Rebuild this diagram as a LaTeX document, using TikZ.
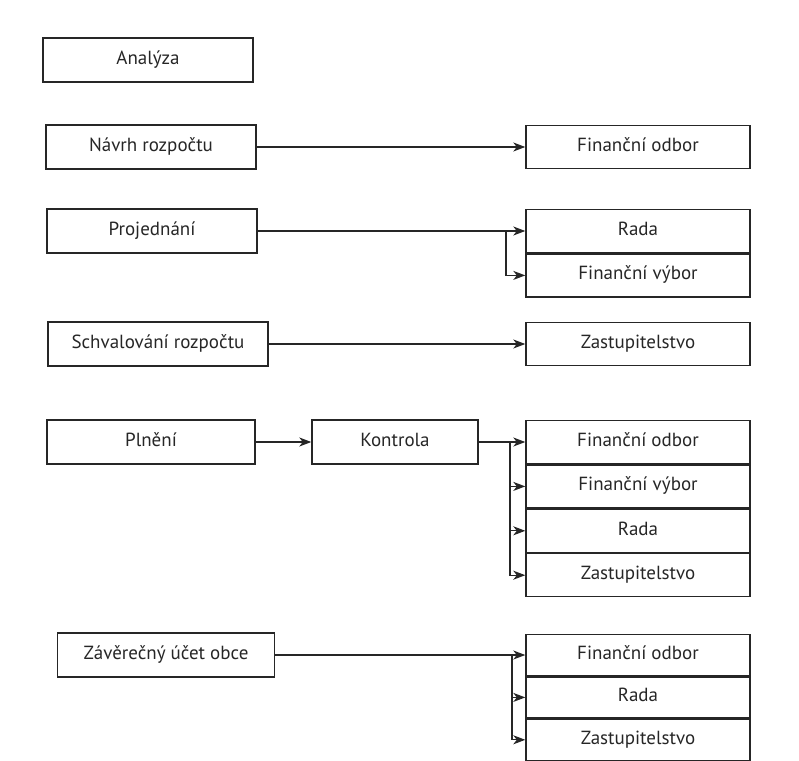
\documentclass[tikz,border=0pt]{standalone}
\usepackage{fontspec}
\setmainfont{PT Sans}
\usetikzlibrary{positioning,arrows.meta}

\tikzset{
  box/.style={draw=black!85, line width=1.4pt, minimum height=44pt, inner sep=0pt,
    text height=13pt, text depth=4pt,
    font=\fontsize{19}{22}\selectfont, text=black!85},
  leftbox/.style={box, minimum width=210pt},
  rightbox/.style={box, minimum width=224pt, minimum height=43pt},
  arr/.style={draw=black!85, line width=1.3pt, -{Stealth[length=12pt,width=9pt,inset=3.5pt]}},
}

\begin{document}
\begin{tikzpicture}[x=1pt,y=-1pt]
  \useasboundingbox (0,0) rectangle (799,760);
  % Left column
  \node[leftbox] (analyza) at (148,60) {Analýza};
  \node[leftbox] (navrh) at (151,147) {Návrh rozpočtu};
  \node[leftbox] (proj) at (152,231) {Projednání};
  \node[leftbox, minimum width=220pt] (schval) at (158,344) {Schvalování rozpočtu};
  \node[leftbox, minimum width=208pt] (plneni) at (151,442) {Plnění};
  \node[leftbox, minimum width=166pt] (kontrola) at (395,442) {Kontrola};
  \node[leftbox, minimum width=217pt] (zaver) at (166,655) {Závěrečný účet obce};
  % Right column
  \node[rightbox] (fo1) at (638,147) {Finanční odbor};
  \node[rightbox] (rada1) at (638,231) {Rada};
  \node[rightbox, below=0pt of rada1] (vybor1) {Finanční výbor};
  \node[rightbox] (zast1) at (638,344) {Zastupitelstvo};
  \node[rightbox] (fo2) at (638,442) {Finanční odbor};
  \node[rightbox, below=0pt of fo2] (vybor2) {Finanční výbor};
  \node[rightbox, below=0pt of vybor2] (rada2) {Rada};
  \node[rightbox, below=0pt of rada2] (zast2) {Zastupitelstvo};
  \node[rightbox, minimum height=41pt] (fo3) at (638,655) {Finanční odbor};
  \node[rightbox, minimum height=41pt, below=0pt of fo3] (rada3) {Rada};
  \node[rightbox, minimum height=41pt, below=0pt of rada3] (zast3) {Zastupitelstvo};
  % Branch points
  \coordinate (bproj) at (506,231);
  \coordinate (bkon) at (510,442);
  \coordinate (bzav) at (512,655);
  % Arrows
  \draw[arr] (navrh) -- (fo1);
  \draw[arr] (proj) -- (rada1);
  \draw[arr] (bproj) |- (vybor1);
  \draw[arr] (schval) -- (zast1);
  \draw[arr] (plneni) -- (kontrola);
  \draw[arr] (kontrola) -- (fo2);
  \draw[arr] (bkon) |- (vybor2);
  \draw[arr] (bkon) |- (rada2);
  \draw[arr] (bkon) |- (zast2);
  \draw[arr] (zaver) -- (fo3);
  \draw[arr] (bzav) |- (rada3);
  \draw[arr] (bzav) |- (zast3);
\end{tikzpicture}
\end{document}
